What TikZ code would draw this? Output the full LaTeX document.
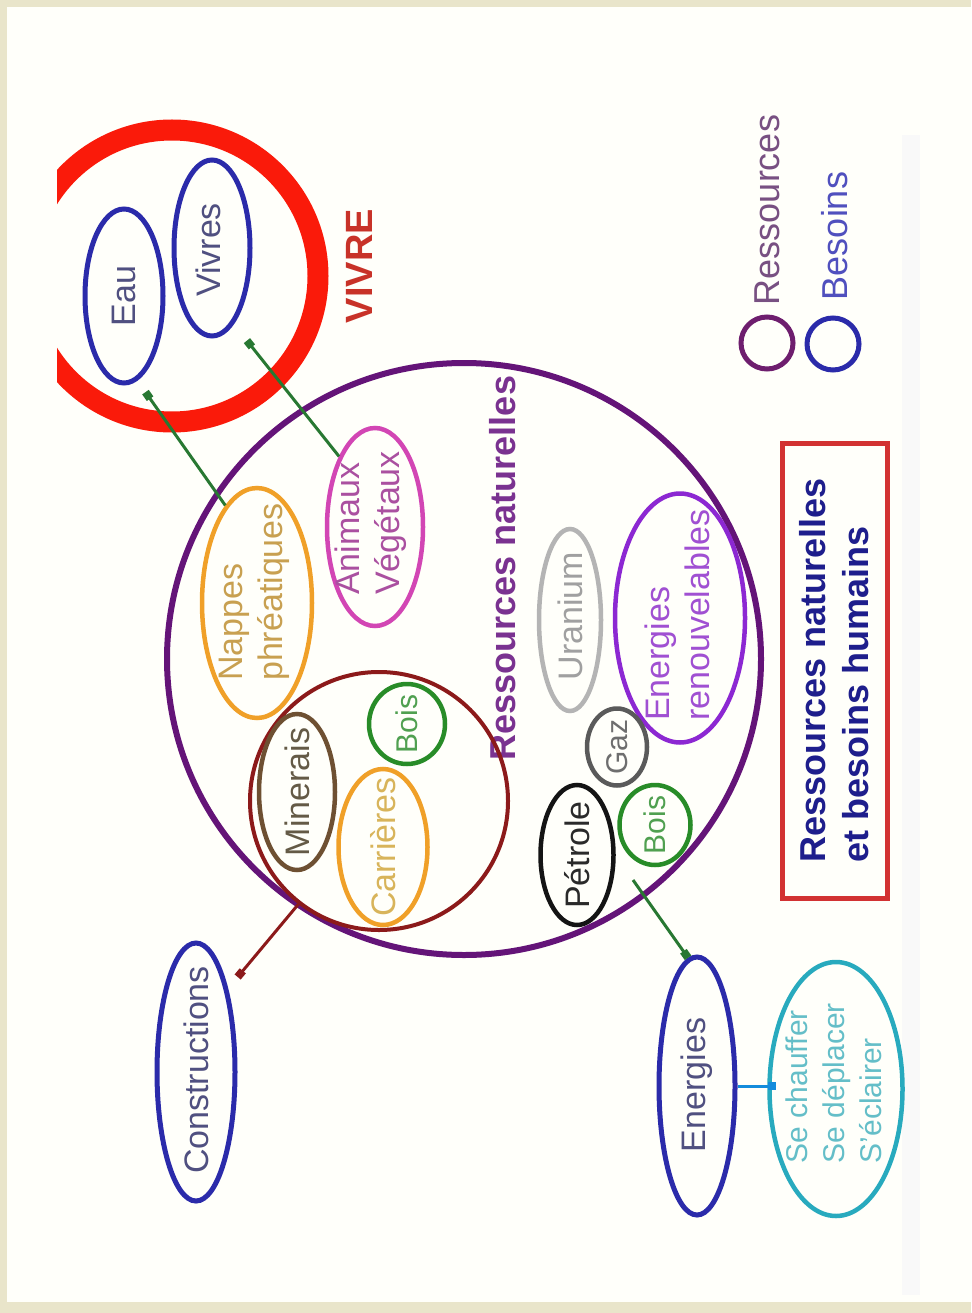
\documentclass[tikz,border=0pt]{standalone}
\usepackage{fontspec}
\setmainfont{Liberation Sans}
\usetikzlibrary{shapes.geometric,arrows.meta}
\definecolor{framebg}{HTML}{E9E5CA}
\definecolor{slidebg}{HTML}{FFFFFA}
\definecolor{ringred}{HTML}{FA1A0A}
\definecolor{vivretxt}{HTML}{C83228}
\definecolor{needblue}{HTML}{2B2BAA}
\definecolor{needtxt}{HTML}{505080}
\definecolor{resviolet}{HTML}{641478}
\definecolor{restxt}{HTML}{7A3290}
\definecolor{nappeor}{HTML}{F0A028}
\definecolor{nappetxt}{HTML}{C8A050}
\definecolor{animag}{HTML}{D246B4}
\definecolor{animtxt}{HTML}{AA50A0}
\definecolor{minbrown}{HTML}{8C1A1A}
\definecolor{boisgreen}{HTML}{288C28}
\definecolor{boistxt}{HTML}{50A050}
\definecolor{minerai}{HTML}{6E5032}
\definecolor{mineraitxt}{HTML}{645A46}
\definecolor{carrtxt}{HTML}{D8B45A}
\definecolor{urangray}{HTML}{B4B4B4}
\definecolor{urantxt}{HTML}{A0A0A0}
\definecolor{enrviolet}{HTML}{8C28D2}
\definecolor{enrtxt}{HTML}{A050D2}
\definecolor{gazgray}{HTML}{5A5A5A}
\definecolor{gaztxt}{HTML}{6E6E6E}
\definecolor{petrblack}{HTML}{141414}
\definecolor{petrtxt}{HTML}{2A2A2A}
\definecolor{linkgreen}{HTML}{287832}
\definecolor{usecyan}{HTML}{28AABE}
\definecolor{usetxt}{HTML}{64BEC8}
\definecolor{linkcyan}{HTML}{148CDC}
\definecolor{legviolet}{HTML}{6E1E6E}
\definecolor{legvtxt}{HTML}{785082}
\definecolor{legbtxt}{HTML}{5050BE}
\definecolor{titlered}{HTML}{D23232}
\definecolor{titletxt}{HTML}{1E1E8C}
\begin{document}
\begin{tikzpicture}[x=1pt,y=-1pt,
  ell/.style={ellipse, inner sep=0pt, line width=4.5pt},
  lbl/.style={rotate=90, inner sep=0pt, align=left, font=\fontsize{34}{40}\selectfont},
  sqtip/.style={-{Square[length=8pt,width=8pt]}, line width=3pt}]
\useasboundingbox (0,0) rectangle (971,1313);
\fill[framebg] (0,0) rectangle (971,1313);
\fill[slidebg] (7,7) rectangle (971,1302);
\fill[black!2.5] (902,135) rectangle (920,1295);
% VIVRE ring
\begin{scope}
\clip (57,0) rectangle (971,1313);
\draw[ringred, line width=21pt] (172,276) circle (146pt);
\end{scope}
\node[font=\bfseries\fontsize{38}{44}\selectfont, text=vivretxt, rotate=90, inner sep=0pt] (vivre) at (359,266) {VIVRE};
% besoins vivre
\node[ell, draw=needblue, line width=5pt, minimum width=78pt, minimum height=174pt] (eau) at (124,296) {};
\node[lbl, text=needtxt] (eauT) at (eau.center) {Eau};
\node[ell, draw=needblue, line width=5pt, minimum width=76pt, minimum height=176pt] (vivres) at (212,248) {};
\node[lbl, text=needtxt] (vivresT) at (208,250) {Vivres};
% ressources naturelles
\node[ell, draw=resviolet, line width=6pt, minimum width=594pt, minimum height=592pt] (res) at (464,659) {};
\node[lbl, font=\bfseries\fontsize{36}{42}\selectfont, text=restxt] (resT) at (503,568) {Ressources naturelles};
\node[ell, draw=nappeor, minimum width=110pt, minimum height=230pt] (nappes) at (257,603) {};
\node[lbl, text=nappetxt] (nappesT) at (254,592) {Nappes\\phréatiques};
\node[ell, draw=animag, minimum width=96pt, minimum height=198pt] (anim) at (375,527) {};
\node[lbl, text=animtxt] (animT) at (371,523) {Animaux\\Végétaux};
% groupe minéraux
\node[ell, draw=minbrown, line width=4pt, minimum width=258pt, minimum height=258pt] (mineraux) at (379,801) {};
\node[ell, draw=boisgreen, minimum width=76pt, minimum height=80pt] (boisA) at (407,724) {};
\node[lbl, font=\fontsize{30}{36}\selectfont, text=boistxt] (boisAT) at (boisA.center) {Bois};
\node[ell, draw=minerai, minimum width=76pt, minimum height=156pt] (minerais) at (297,792) {};
\node[lbl, text=mineraitxt] (mineraisT) at (minerais.center) {Minerais};
\node[ell, draw=nappeor, minimum width=89pt, minimum height=156pt] (carr) at (383,847) {};
\node[lbl, text=carrtxt] (carrT) at (carr.center) {Carrières};
% énergies
\node[ell, draw=urangray, minimum width=62pt, minimum height=182pt] (uran) at (570,620) {};
\node[lbl, text=urantxt] (uranT) at (570,616) {Uranium};
\node[ell, draw=enrviolet, minimum width=130pt, minimum height=249pt] (enren) at (680,618) {};
\node[lbl, text=enrtxt] (enrenT) at (677,615) {Energies\\renouvelables};
\node[ell, draw=gazgray, minimum width=60pt, minimum height=77pt] (gaz) at (617,747) {};
\node[lbl, font=\fontsize{30}{36}\selectfont, text=gaztxt] (gazT) at (gaz.center) {Gaz};
\node[ell, draw=petrblack, minimum width=73pt, minimum height=140pt] (petrole) at (577,855) {};
\node[lbl, text=petrtxt] (petroleT) at (petrole.center) {Pétrole};
\node[ell, draw=boisgreen, minimum width=71pt, minimum height=80pt] (boisB) at (655,825) {};
\node[lbl, font=\fontsize{30}{36}\selectfont, text=boistxt] (boisBT) at (boisB.center) {Bois};
% besoins
\node[ell, draw=needblue, line width=5pt, minimum width=78pt, minimum height=258pt] (constr) at (196,1072) {};
\node[lbl, text=needtxt] (constrT) at (196,1070) {Constructions};
\node[ell, draw=needblue, line width=5pt, minimum width=76pt, minimum height=258pt] (ener) at (697,1086) {};
\node[lbl, text=needtxt] (enerT) at (697,1085) {Energies};
\node[ell, draw=usecyan, minimum width=133pt, minimum height=254pt] (usages) at (836,1089) {};
\node[lbl, font=\fontsize{30}{37}\selectfont, text=usetxt] (usagesT) at (834,1083) {Se chauffer\\Se déplacer\\S'éclairer};
% légende
\node[circle, draw=legviolet, line width=5pt, minimum size=52pt, inner sep=0pt] (legR) at (767,343) {};
\node[lbl, font=\fontsize{36}{42}\selectfont, text=legvtxt] (legRT) at (767,210) {Ressources};
\node[circle, draw=needblue, line width=5pt, minimum size=52pt, inner sep=0pt] (legB) at (833,344) {};
\node[lbl, font=\fontsize{36}{42}\selectfont, text=legbtxt] (legBT) at (835,236) {Besoins};
% titre
\node[draw=titlered, line width=5pt, rotate=90, minimum width=455pt, minimum height=105pt, inner sep=0pt, align=left, text=titletxt, font=\bfseries\fontsize{36}{43}\selectfont] (title) at (834.5,670.5) {Ressources naturelles\\et besoins humains};
% connecteurs
\coordinate (boisStart) at (633,880);
\draw[sqtip, linkgreen, shorten >=14pt] (nappes.108) -- (eau.-81);
\draw[sqtip, linkgreen, shorten >=21pt] (anim.117) -- (vivres.-74);
\draw[sqtip, minbrown, shorten >=15pt] (mineraux.232) -- (constr.69);
\draw[sqtip, linkgreen] (boisStart) -- (ener.94);
\draw[sqtip, linkcyan, shorten >=-9pt] (ener.east) -- (ener.east -| usages.west);
\end{tikzpicture}
\end{document}
